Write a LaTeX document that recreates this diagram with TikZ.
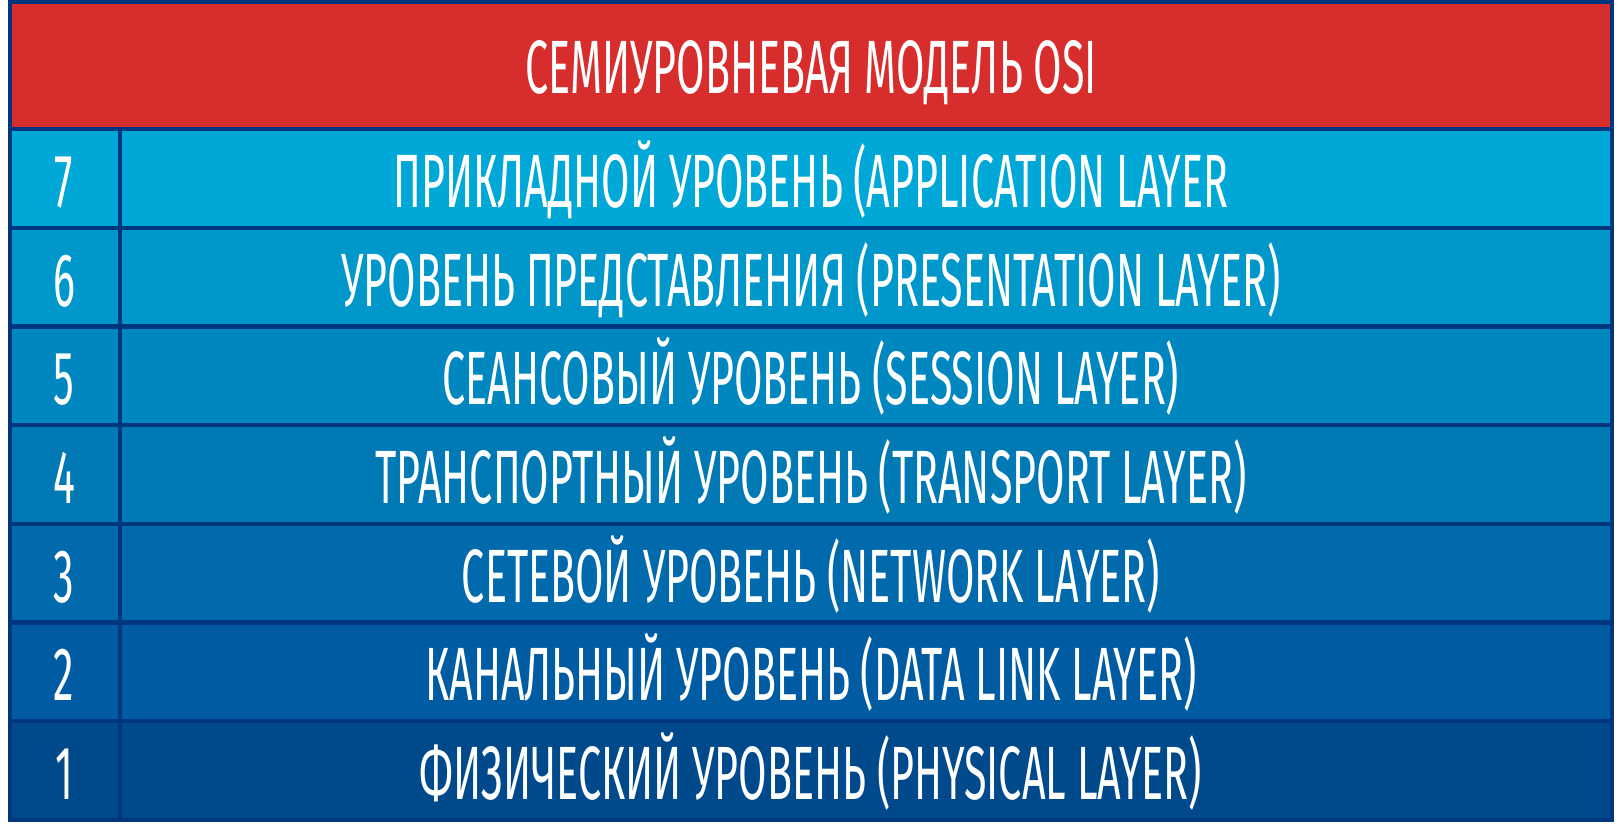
\documentclass[tikz,border=0pt]{standalone}
\usepackage{fontspec}
\newfontfamily\osifont{Fira Sans}[FakeStretch=0.545]
\usepackage{xcolor}
\usepackage{tikz}
\usetikzlibrary{positioning}
\definecolor{osired}{HTML}{D82D2D}
\definecolor{osiline}{HTML}{00367D}
\definecolor{lay7}{HTML}{00A8D7}
\definecolor{lay6}{HTML}{0097CA}
\definecolor{lay5}{HTML}{0087BF}
\definecolor{lay4}{HTML}{0079B5}
\definecolor{lay3}{HTML}{006AAC}
\definecolor{lay2}{HTML}{005CA2}
\definecolor{lay1}{HTML}{004A8C}
\tikzset{
  ositext/.style={text=white, anchor=base, inner sep=0pt,
    font=\osifont\fontsize{21.5}{25}\selectfont},
  gridline/.style={osiline, line width=1.2pt}
}

\begin{document}
\begin{tikzpicture}[x=0.01cm, y=-0.01cm]
  \useasboundingbox (0,0) rectangle (1624,824);
  % header
  \fill[osired] (10,2) rectangle (1612,129);
  \node[ositext] (title) at (811,93) {СЕМИУРОВНЕВАЯ МОДЕЛЬ OSI};
  % layers, top to bottom
  \foreach \n/\txt [count=\i from 0] in {
      7/ПРИКЛАДНОЙ УРОВЕНЬ (APPLICATION LAYER,
      6/УРОВЕНЬ ПРЕДСТАВЛЕНИЯ (PRESENTATION LAYER),
      5/СЕАНСОВЫЙ УРОВЕНЬ (SESSION LAYER),
      4/ТРАНСПОРТНЫЙ УРОВЕНЬ (TRANSPORT LAYER),
      3/СЕТЕВОЙ УРОВЕНЬ (NETWORK LAYER),
      2/КАНАЛЬНЫЙ УРОВЕНЬ (DATA LINK LAYER),
      1/ФИЗИЧЕСКИЙ УРОВЕНЬ (PHYSICAL LAYER)} {
    \pgfmathsetmacro{\top}{129+98.7*\i}
    \pgfmathsetmacro{\bot}{\top+98.7}
    \pgfmathsetmacro{\base}{\top+49.35+29}
    \fill[lay\n] (10,\top) rectangle (1612,\bot);
    \node[ositext] (num\n) at (64,\base) {\n};
    \node[ositext] (lay\n) at (811,\base) {\txt};
    \draw[gridline] (10,\top) -- (1612,\top);
  }
  \draw[gridline] (120,129) -- (120,820);
  \draw[gridline] (10,2) rectangle (1612,820);
\end{tikzpicture}
\end{document}
